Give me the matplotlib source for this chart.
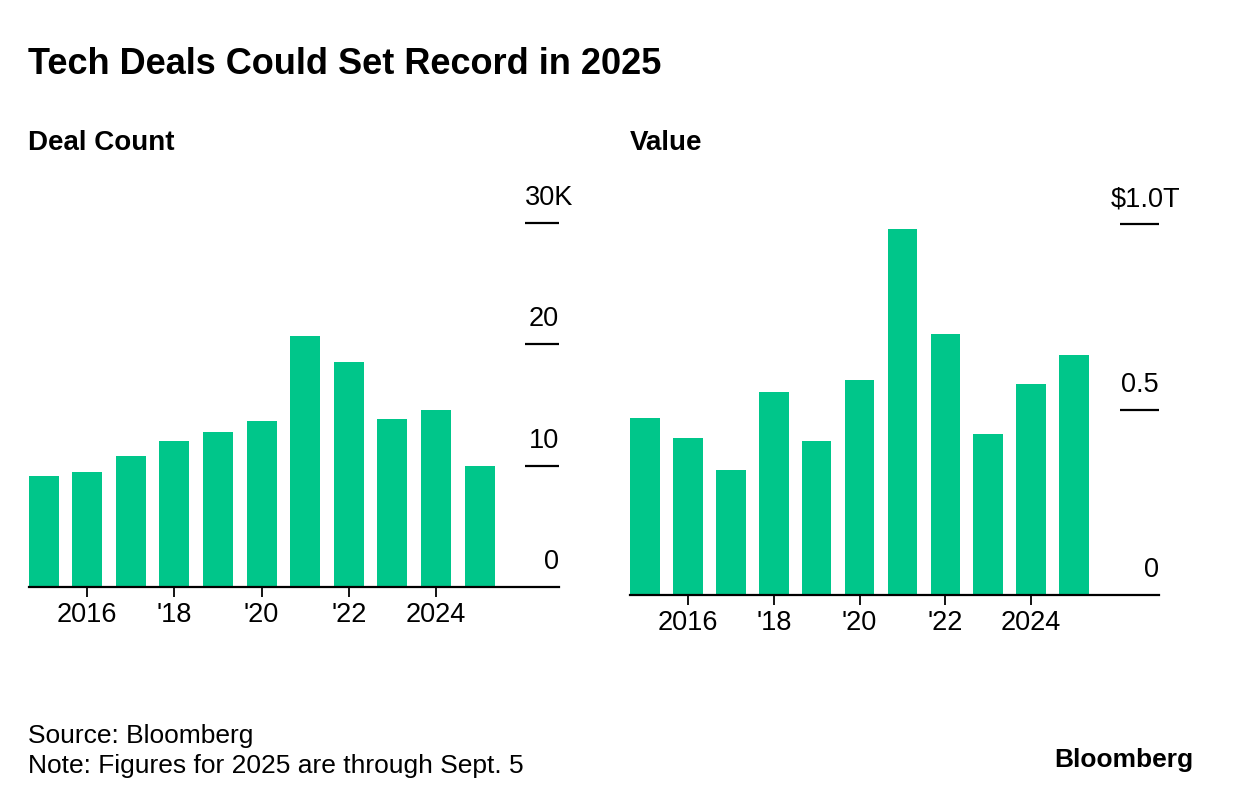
import matplotlib
matplotlib.use("Agg")
import matplotlib.pyplot as plt

plt.rcParams['font.family'] = ['Liberation Sans', 'DejaVu Sans']

years = list(range(2015, 2026))
deal_count = [9.1, 9.5, 10.8, 12.0, 12.8, 13.7, 20.7, 18.5, 13.8, 14.6, 10.0]   # thousands
deal_value = [0.477, 0.423, 0.337, 0.548, 0.416, 0.580, 0.986, 0.703, 0.434, 0.568, 0.647]  # $ trillions

x_ticks = [2016, 2018, 2020, 2022, 2024]
x_tick_labels = ['2016', "'18", "'20", "'22", '2024']

count_ticks = [0, 10, 20, 30]
count_labels = ['0', '10', '20', '30K']
value_ticks = [0, 0.5, 1.0]
value_labels = ['0', '0.5', '$1.0T']

GREEN = '#00C68A'
W, H = 1233, 802

fig = plt.figure(figsize=(W / 100, H / 100), dpi=100)


def px_axes(left, top, right, bottom):
    return fig.add_axes([left / W, 1 - bottom / H, (right - left) / W, (bottom - top) / H])


def draw_panel(ax, values, ticks, labels, ymax, xlim, tick_x, top_dx):
    ax.bar(years, values, width=0.69, color=GREEN, zorder=2)
    ax.set_xlim(*xlim)
    ax.set_ylim(0, ymax)
    for s in ['top', 'right', 'left']:
        ax.spines[s].set_visible(False)
    ax.spines['bottom'].set_linewidth(1.6)
    ax.spines['bottom'].set_zorder(3)
    ax.set_yticks([])
    ax.set_xticks(x_ticks)
    ax.set_xticklabels(x_tick_labels, fontsize=19.5)
    ax.tick_params(axis='x', length=7, width=1.3, pad=4, color='black')
    # right-hand value ticks: short lines with labels above
    ax.hlines([t for t in ticks if t > 0], tick_x[0], tick_x[1], color='black', lw=1.6, clip_on=False)
    for i, (t, lab) in enumerate(zip(ticks, labels)):
        if i == len(ticks) - 1:
            ax.annotate(lab, (tick_x[0], t), xytext=(top_dx, 13), textcoords='offset points',
                        ha='left', va='baseline', fontsize=19.5, annotation_clip=False)
        else:
            ax.annotate(lab, (tick_x[1], t), xytext=(0, 13), textcoords='offset points',
                        ha='right', va='baseline', fontsize=19.5, annotation_clip=False)


ax1 = px_axes(28.5, 222.7, 559, 587)
draw_panel(ax1, deal_count, count_ticks, count_labels, 30,
           (2014.655, 2026.82), (2026.04, 2026.82), 0)

ax2 = px_axes(630, 224.3, 1159, 595)
draw_panel(ax2, deal_value, value_ticks, value_labels, 1.0,
           (2014.65, 2026.98), (2026.07, 2026.98), -7)

fig.text(28 / W, 1 - 74 / H, 'Tech Deals Could Set Record in 2025', fontsize=26,
         fontweight='bold', ha='left', va='baseline')
fig.text(28 / W, 1 - 150 / H, 'Deal Count', fontsize=20, fontweight='bold', ha='left', va='baseline')
fig.text(630 / W, 1 - 150 / H, 'Value', fontsize=20, fontweight='bold', ha='left', va='baseline')

fig.text(28 / W, 1 - 743 / H, 'Source: Bloomberg', fontsize=19, ha='left', va='baseline')
fig.text(28 / W, 1 - 773 / H, 'Note: Figures for 2025 are through Sept. 5', fontsize=19,
         ha='left', va='baseline')
fig.text(1193 / W, 1 - 767 / H, 'Bloomberg', fontsize=19, fontweight='bold', ha='right', va='baseline')

fig.savefig('out.png', dpi=100, facecolor='white')
